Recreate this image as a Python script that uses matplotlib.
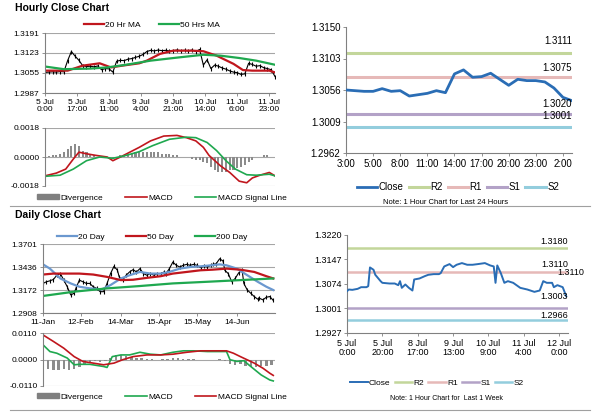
import matplotlib
matplotlib.use('Agg')
import matplotlib.pyplot as plt
from matplotlib.lines import Line2D
from matplotlib.patches import Patch
from matplotlib.ticker import FormatStrFormatter

plt.rcParams['font.family'] = ['Liberation Sans', 'DejaVu Sans']

# ---- Hourly close chart (last week, 2-hour steps) ----
hourly_close = [1.3057, 1.3058, 1.3059, 1.3058, 1.3060, 1.3059, 1.3097, 1.3128, 1.3112, 1.3098,
                1.3080, 1.3077, 1.3078, 1.3076, 1.3079, 1.3066, 1.3070, 1.3069, 1.3058, 1.3095,
                1.3098, 1.3097, 1.3102, 1.3104, 1.3108, 1.3112, 1.3118, 1.3128, 1.3132, 1.3130,
                1.3133, 1.3131, 1.3132, 1.3130, 1.3131, 1.3133, 1.3131, 1.3132, 1.3130, 1.3133,
                1.3128, 1.3135, 1.3082, 1.3100, 1.3070, 1.3082, 1.3078, 1.3072, 1.3068, 1.3062,
                1.3058, 1.3056, 1.3050, 1.3052, 1.3088, 1.3084, 1.3078, 1.3080, 1.3073, 1.3070,
                1.3066, 1.3043]
ma20_hr_x = [0, 12, 20, 29, 35, 41, 50, 54, 61, 68, 78, 84, 91, 100, 105, 110, 119, 122]
ma20_hr = [1.3063, 1.3063, 1.3080, 1.3088, 1.3074, 1.3080, 1.3088, 1.3097, 1.3120, 1.3131,
           1.3131, 1.3129, 1.3114, 1.3086, 1.3065, 1.3063, 1.3063, 1.3057]
ma50_hr_x = [0, 10, 24, 33, 43, 56, 71, 84, 93, 103, 112, 122]
ma50_hr = [1.3077, 1.3068, 1.3070, 1.3074, 1.3083, 1.3097, 1.3108, 1.3117, 1.3114, 1.3106,
           1.3097, 1.3083]
hourly_ticks = [0, 17, 34, 51, 68, 85, 102, 119]
hourly_labels = ['5 Jul\n0:00', '5 Jul\n17:00', '8 Jul\n11:00', '9 Jul\n4:00',
                 '9 Jul\n21:00', '10 Jul\n14:00', '11 Jul\n6:00', '11 Jul\n23:00']
hourly_yticks = [1.2987, 1.3055, 1.3123, 1.3191]

hourly_div = [0.00005, 0.00005, 0.0001, 0.0001, 0.0002, 0.0003, 0.0005, 0.0007, 0.0008, 0.0007,
              0.0004, 0.0003, 0.0002, 0.0001, 0.0, 0.0, 0.0, -0.0001, -0.0001, 0.0,
              0.0001, 0.0001, 0.0002, 0.0002, 0.0003, 0.0003, 0.0003, 0.0003, 0.0003, 0.0003,
              0.0003, 0.0002, 0.0002, 0.0002, 0.0001, 0.0001, 0.0, 0.0, 0.0, -0.0001,
              -0.0002, -0.0002, -0.0003, -0.0004, -0.0006, -0.0008, -0.0009, -0.0009, -0.0009, -0.0008,
              -0.0008, -0.0007, -0.0006, -0.0005, -0.0003, -0.0002, 0.0, 0.0, 0.0001, 0.0001,
              0.0, 0.0]
hr_macd_x = [0, 6, 11, 15, 18, 22, 27, 33, 36, 40, 45, 50, 56, 63, 70, 75, 80, 84, 87, 93,
             98, 103, 107, 110, 114, 119, 122]
hr_macd = [-0.00117, -0.0010, -0.00075, -0.00013, 0.0003, 0.0002, 0.0001, 0.0, -0.00023, 0.0,
           0.0003, 0.0006, 0.0010, 0.0013, 0.00134, 0.0012, 0.0010, 0.0006, 0.0001, -0.00054,
           -0.00096, -0.0015, -0.0016, -0.0013, -0.00113, -0.00096, -0.00117]
hr_signal_x = [0, 8, 15, 22, 29, 36, 43, 50, 57, 66, 75, 80, 86, 91, 96, 101, 107, 112, 119, 122]
hr_signal = [-0.0012, -0.00113, -0.00075, -0.00023, 0.0, -0.00008, 0.0001, 0.00033, 0.0007, 0.0011,
             0.00123, 0.0012, 0.0009, 0.0004, -0.00023, -0.00075, -0.0011, -0.00113, -0.00107, -0.00117]
hr_macd_yticks = [-0.0018, 0.0, 0.0018]

# ---- Last 24 hours with pivot levels ----
day_close = [1.3056, 1.3055, 1.3054, 1.3054, 1.3058, 1.3054, 1.3055, 1.3047, 1.3049, 1.3051,
             1.3055, 1.3052, 1.3080, 1.3086, 1.3075, 1.3076, 1.3081, 1.3072, 1.3063, 1.3072,
             1.3070, 1.3070, 1.3068, 1.3059, 1.3045, 1.3040]
day_labels = ['3:00', '5:00', '8:00', '11:00', '14:00', '17:00', '20:00', '23:00', '2:00']
day_levels = {'R2': 1.3111, 'R1': 1.3075, 'S1': 1.3020, 'S2': 1.3001}
day_yticks = [1.2962, 1.3009, 1.3056, 1.3103, 1.3150]

# ---- Daily close chart ----
daily_x = [0, 2, 4, 6, 8, 10, 12, 14, 16, 18, 19, 21, 23, 25, 27, 29, 31, 33, 35, 37,
           39, 41, 43, 44, 46, 48, 50, 52, 54, 56, 58, 60, 62, 64, 66, 68, 70, 71, 73, 75,
           77, 79, 81, 83, 85, 87, 89, 91, 93, 95, 97, 98, 100, 102, 104, 105, 107, 109, 111, 113,
           115, 116, 118, 120, 122, 124, 125, 127, 129, 131, 133]
daily_close = [1.3248, 1.3267, 1.3278, 1.3293, 1.3342, 1.3361, 1.3286, 1.3210, 1.3116, 1.3135,
               1.3191, 1.3286, 1.3267, 1.3248, 1.3248, 1.3210, 1.3191, 1.3153, 1.3153, 1.3248,
               1.3361, 1.3444, 1.3399, 1.3323, 1.3286, 1.3342, 1.3380, 1.3406, 1.3380, 1.3418,
               1.3361, 1.3342, 1.3361, 1.3342, 1.3361, 1.3361, 1.3380, 1.3361, 1.3418, 1.3493,
               1.3456, 1.3437, 1.3456, 1.3467, 1.3456, 1.3467, 1.3456, 1.3429, 1.3444, 1.3437,
               1.3456, 1.3467, 1.3474, 1.3531, 1.3505, 1.3399, 1.3361, 1.3267, 1.3305, 1.3369,
               1.3399, 1.3248, 1.3172, 1.3135, 1.3097, 1.3067, 1.3078, 1.3059, 1.3089, 1.3097,
               1.3052]
ma20_day_x = [0, 4, 10, 16, 21, 27, 34, 39, 45, 50, 56, 62, 68, 73, 79, 85, 91, 97, 102, 106,
              112, 118, 124, 129, 133]
ma20_day = [1.3467, 1.3418, 1.3305, 1.3248, 1.3210, 1.3191, 1.3180, 1.3229, 1.3305, 1.3342,
            1.3380, 1.3361, 1.3361, 1.3380, 1.3418, 1.3437, 1.3444, 1.3456, 1.3467, 1.3456,
            1.3418, 1.3342, 1.3267, 1.3210, 1.3172]
ma50_day_x = [0, 6, 14, 21, 29, 37, 45, 52, 60, 68, 75, 83, 91, 98, 106, 114, 122, 129, 133]
ma50_day = [1.3350, 1.3361, 1.3361, 1.3361, 1.3350, 1.3323, 1.3286, 1.3290, 1.3312, 1.3331,
            1.3361, 1.3380, 1.3399, 1.3406, 1.3418, 1.3406, 1.3380, 1.3331, 1.3305]
ma200_day_x = [0, 18, 37, 56, 75, 95, 114, 133]
ma200_day = [1.3104, 1.3153, 1.3191, 1.3218, 1.3248, 1.3267, 1.3286, 1.3305]
daily_ticks = [0, 22, 45, 67, 89, 112]
daily_labels = ['11-Jan', '12-Feb', '14-Mar', '15-Apr', '15-May', '14-Jun']
daily_yticks = [1.2908, 1.3172, 1.3436, 1.3701]

daily_div = [-0.0035, -0.0040, -0.0042, -0.0042, -0.0040, -0.0042, -0.0038, -0.0030, -0.0020, -0.0010,
             -0.0008, -0.0010, -0.0008, 0.0005, 0.0018, 0.0020, 0.0015, 0.0010, 0.0008, 0.0005,
             0.0002, 0.0001, 0.0, 0.0002, 0.0004, 0.0006, 0.0005, 0.0004, 0.0002, 0.0001,
             0.0, 0.0, 0.0, 0.0, 0.0001, -0.0005, -0.0018, -0.0022, -0.0020, -0.0025,
             -0.0030, -0.0032, -0.0028, -0.0025, -0.0022]
day_macd_x = [0, 4, 8, 14, 18, 21, 27, 35, 37, 40, 45, 50, 56, 62, 68, 75, 81, 87, 95, 106,
              108, 112, 116, 120, 126, 131, 133]
day_macd = [0.0061, 0.0033, 0.0026, 0.0006, -0.0022, -0.0020, -0.0020, -0.0029, -0.0033, 0.0012,
            0.0019, 0.0019, 0.0030, 0.0022, 0.0019, 0.0030, 0.0036, 0.0036, 0.0033, 0.0033,
            -0.0001, -0.0008, -0.0005, -0.0029, -0.0064, -0.0085, -0.0089]
day_signal_x = [0, 6, 12, 18, 23, 29, 35, 41, 46, 52, 60, 68, 75, 83, 91, 98, 106, 110, 114, 122,
                127, 131, 133]
day_signal = [0.0102, 0.0075, 0.0047, 0.0012, -0.0008, -0.0015, -0.0022, -0.0015, -0.0001, 0.0012,
              0.0019, 0.0019, 0.0022, 0.0030, 0.0036, 0.0036, 0.0036, 0.0026, 0.0012, -0.0015,
              -0.0036, -0.0057, -0.0066]
day_macd_yticks = [-0.0110, 0.0, 0.0110]

# ---- Last week, hourly, with pivot levels ----
week_x = [0, 1, 3, 6, 8, 11, 12, 13, 15, 16, 19, 20, 24, 27, 29, 30, 31, 33, 35, 37,
          38, 41, 44, 46, 49, 52, 53, 55, 58, 60, 62, 65, 68, 71, 74, 78, 81, 83, 84, 85,
          87, 89, 91, 94, 98, 102, 106, 109, 111, 113, 116, 117, 119, 122, 124]
week_close = [1.3052, 1.3057, 1.3056, 1.3059, 1.3064, 1.3064, 1.3067, 1.3123, 1.3116, 1.3101,
              1.3082, 1.3077, 1.3075, 1.3075, 1.3070, 1.3082, 1.3062, 1.3072, 1.3062, 1.3054,
              1.3087, 1.3090, 1.3097, 1.3101, 1.3103, 1.3103, 1.3106, 1.3126, 1.3133, 1.3124,
              1.3131, 1.3136, 1.3131, 1.3131, 1.3133, 1.3136, 1.3129, 1.3126, 1.3077, 1.3129,
              1.3106, 1.3077, 1.3082, 1.3077, 1.3062, 1.3057, 1.3050, 1.3054, 1.3082, 1.3077,
              1.3077, 1.3064, 1.3070, 1.3064, 1.3037]
week_ticks = [0, 20, 40, 60, 80, 100, 120]
week_labels = ['5 Jul\n0:00', '5 Jul\n20:00', '8 Jul\n17:00', '9 Jul\n13:00',
               '10 Jul\n9:00', '11 Jul\n4:00', '12 Jul\n0:00']
week_levels = {'R2': 1.3180, 'R1': 1.3110, 'S1': 1.3003, 'S2': 1.2966}
week_yticks = [1.2927, 1.3001, 1.3074, 1.3147, 1.3220]

RED = '#c0161d'
GREEN = '#1fa84f'
BLUE = '#6b98cf'
GRAY = '#8c8c8c'
CLOSE_BLUE = '#2a6db5'
LEVEL_COLORS = {'R2': '#c3d69b', 'R1': '#e6b9b8', 'S1': '#b3a2c7', 'S2': '#93cddd'}
FIG_W, FIG_H = 600, 413


def px_axes(fig, left, top, right, bottom):
    return fig.add_axes([left / FIG_W, 1 - bottom / FIG_H,
                         (right - left) / FIG_W, (bottom - top) / FIG_H])


def style_axes(ax, yticks, grid=True, size=6):
    ax.set_ylim(yticks[0], yticks[-1])
    ax.set_yticks(yticks)
    ax.yaxis.set_major_formatter(FormatStrFormatter('%.4f'))
    if grid:
        ax.yaxis.grid(True, color='#a6a6a6', lw=0.8)
    ax.set_axisbelow(True)
    for s in ['top', 'right']:
        ax.spines[s].set_visible(False)
    ax.spines['left'].set_color('#808080')
    ax.spines['bottom'].set_color('#808080')
    ax.tick_params(labelsize=size, length=2.5, width=0.6, color='#808080', pad=1.5)


def macd_axes(ax, yticks):
    style_axes(ax, yticks)
    ax.spines['bottom'].set_visible(False)
    ax.set_xticks([])


def level_lines(ax, levels, lw):
    for name, val in levels.items():
        ax.axhline(val, color=LEVEL_COLORS[name], lw=lw, label=name, zorder=2)


def pivot_legend(fig, ax, xc, yc, size):
    fig.legend(handles=ax.get_lines()[:5], loc='center', bbox_to_anchor=(xc / FIG_W, 1 - yc / FIG_H),
               ncol=5, frameon=False, fontsize=size, handlelength=2.1, handletextpad=0.15,
               columnspacing=0.5)


def main():
    fig = plt.figure(figsize=(6, 4.13), dpi=100)

    # Hourly close chart
    fig.text(15 / FIG_W, 1 - 8 / FIG_H, 'Hourly Close Chart', fontsize=7.5, weight='bold', va='center')
    ax1 = px_axes(fig, 45, 33, 275, 93)
    hx = list(range(0, 2 * len(hourly_close), 2))
    ax1.plot(hx, hourly_close, color='black', lw=0.8, marker='|', ms=3, mew=0.8)
    l20, = ax1.plot(ma20_hr_x, ma20_hr, color=RED, lw=1.6, label='20 Hr MA')
    l50, = ax1.plot(ma50_hr_x, ma50_hr, color=GREEN, lw=1.6, label='50 Hrs MA')
    ax1.set_xlim(0, 122)
    ax1.set_xticks(hourly_ticks)
    ax1.set_xticklabels(hourly_labels, linespacing=1.0)
    style_axes(ax1, hourly_yticks)
    fig.legend(handles=[l20, l50], loc='center', bbox_to_anchor=(152 / FIG_W, 1 - 25 / FIG_H), ncol=2,
               frameon=False, fontsize=6, handlelength=2.4, handletextpad=0.1, columnspacing=2.2)

    ax2 = px_axes(fig, 45, 128, 275, 186)
    ax2.bar(hx, hourly_div, width=1.1, color=GRAY, label='Divergence')
    m1, = ax2.plot(hr_macd_x, hr_macd, color=RED, lw=1.2, label='MACD')
    s1, = ax2.plot(hr_signal_x, hr_signal, color=GREEN, lw=1.2, label='MACD Signal Line')
    ax2.set_xlim(0, 122)
    macd_axes(ax2, hr_macd_yticks)
    fig.legend(handles=[Patch(color='#7f7f7f', label='Divergence'), m1, s1], loc='center',
               bbox_to_anchor=(162 / FIG_W, 1 - 198 / FIG_H), ncol=3, frameon=False, fontsize=6,
               handlelength=2.6, handletextpad=0.2, columnspacing=2.6, handleheight=0.5)

    # Last 24 hours
    ax3 = px_axes(fig, 346, 27, 572, 153)
    ax3.plot(range(len(day_close)), day_close, color=CLOSE_BLUE, lw=2.0, label='Close', zorder=3)
    level_lines(ax3, day_levels, 2.2)
    offsets = {'R2': 5, 'R1': 3, 'S1': 4, 'S2': 4}
    for name, val in day_levels.items():
        ax3.annotate(f'{val:.4f}', (len(day_close) - 1, val), xytext=(0, offsets[name]),
                     textcoords='offset points', ha='right', va='bottom', fontsize=7)
    ax3.set_xlim(0, len(day_close) - 1)
    ax3.set_xticks(range(0, len(day_close), 3))
    ax3.set_xticklabels(day_labels)
    style_axes(ax3, day_yticks, grid=False, size=7)
    pivot_legend(fig, ax3, 458, 187, 7)
    fig.text(446 / FIG_W, 1 - 202 / FIG_H, 'Note: 1 Hour Chart for Last 24 Hours', fontsize=5.5,
             ha='center', va='center')

    fig.add_artist(Line2D([10 / FIG_W, 590 / FIG_W], [1 - 206 / FIG_H] * 2, color='#a0a0a0', lw=0.8))

    # Daily close chart
    fig.text(15 / FIG_W, 1 - 215 / FIG_H, 'Daily Close Chart', fontsize=7.5, weight='bold', va='center')
    ax4 = px_axes(fig, 43, 244, 275, 313)
    ax4.plot(daily_x, daily_close, color='black', lw=0.8, marker='|', ms=3.5, mew=0.8)
    d20, = ax4.plot(ma20_day_x, ma20_day, color=BLUE, lw=1.6, label='20 Day')
    d50, = ax4.plot(ma50_day_x, ma50_day, color=RED, lw=1.6, label='50 Day')
    d200, = ax4.plot(ma200_day_x, ma200_day, color=GREEN, lw=1.6, label='200 Day')
    ax4.set_xlim(0, 134)
    ax4.set_xticks(daily_ticks)
    ax4.set_xticklabels(daily_labels)
    style_axes(ax4, daily_yticks)
    fig.legend(handles=[d20, d50, d200], loc='center', bbox_to_anchor=(152 / FIG_W, 1 - 237 / FIG_H),
               ncol=3, frameon=False, fontsize=6, handlelength=2.4, handletextpad=0.1, columnspacing=2.6)

    ax5 = px_axes(fig, 43, 333, 275, 386)
    ax5.bar(range(0, 3 * len(daily_div), 3), daily_div, width=1.4, color=GRAY)
    m2, = ax5.plot(day_macd_x, day_macd, color=GREEN, lw=1.2, label='MACD')
    s2, = ax5.plot(day_signal_x, day_signal, color=RED, lw=1.2, label='MACD Signal Line')
    ax5.set_xlim(0, 134)
    macd_axes(ax5, day_macd_yticks)
    fig.legend(handles=[Patch(color='#7f7f7f', label='Divergence'), m2, s2], loc='center',
               bbox_to_anchor=(162 / FIG_W, 1 - 397 / FIG_H), ncol=3, frameon=False, fontsize=6,
               handlelength=2.6, handletextpad=0.2, columnspacing=2.6, handleheight=0.5)

    # Last week with pivot levels
    ax6 = px_axes(fig, 347, 235, 568, 333)
    ax6.plot(week_x, week_close, color=CLOSE_BLUE, lw=1.4, label='Close', zorder=3)
    level_lines(ax6, week_levels, 1.8)
    offsets = {'R2': 2, 'R1': 2, 'S1': 5, 'S2': 0}
    for name, val in week_levels.items():
        ax6.annotate(f'{val:.4f}', (125, val), xytext=(0, offsets[name]),
                     textcoords='offset points', ha='right', va='bottom', fontsize=6.5)
    ax6.annotate(f"{week_levels['R1']:.4f}", (125, week_levels['R1']), xytext=(12, -4),
                 textcoords='offset points', ha='right', va='bottom', fontsize=6.5)
    ax6.set_xlim(0, 125)
    ax6.set_xticks(week_ticks)
    ax6.set_xticklabels(week_labels, linespacing=1.0)
    style_axes(ax6, week_yticks, grid=False, size=6.5)
    pivot_legend(fig, ax6, 437, 383, 6)
    fig.text(446 / FIG_W, 1 - 398 / FIG_H, 'Note: 1 Hour Chart for  Last 1 Week', fontsize=5,
             ha='center', va='center')

    fig.add_artist(Line2D([10 / FIG_W, 590 / FIG_W], [1 - 409.5 / FIG_H] * 2, color='#a0a0a0', lw=0.8))

    fig.savefig('out.png', dpi=100)


if __name__ == "__main__":
    main()
